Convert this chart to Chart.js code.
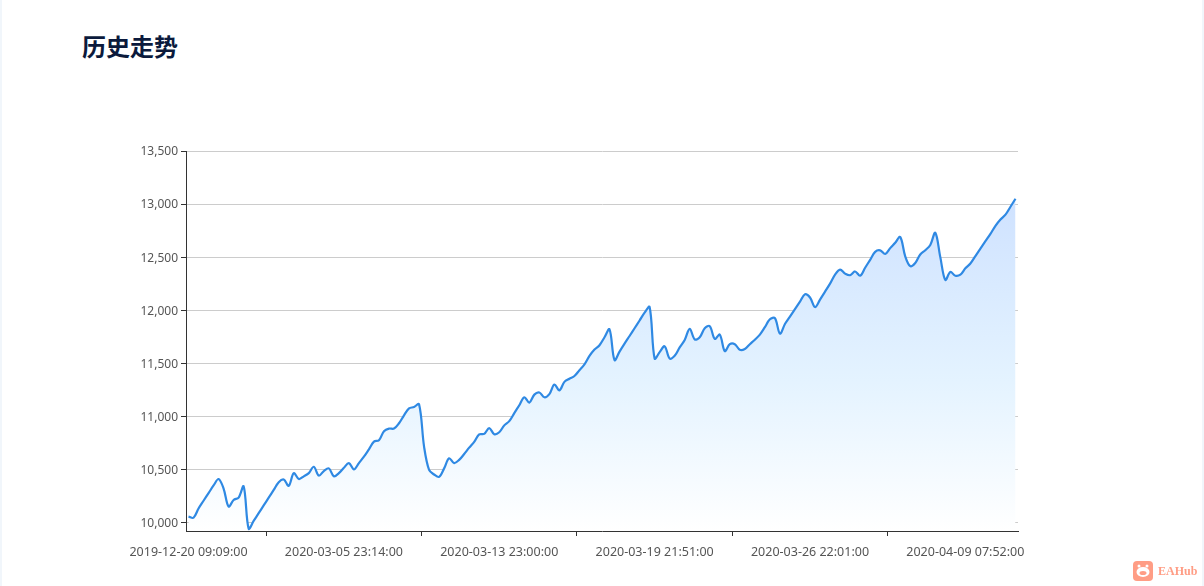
<!doctype html>
<html lang="zh-CN">
  <head>
    <meta charset="utf-8" />
    <title>历史走势</title>
    <style>
      html,
      body {
        margin: 0;
        height: 100%;
        overflow: hidden;
        background: #f1f6fb;
      }

      .panel {
        position: absolute;
        left: 2px;
        right: 2px;
        top: 0;
        bottom: 0;
        background: #ffffff;
      }

      .panel-title {
        position: absolute;
        left: 82px;
        top: 28px;
        margin: 0;
        font: bold 24px/36px "Noto Sans CJK SC", sans-serif;
        color: #0b1a3c;
      }

      #historyChart {
        position: absolute;
        left: 0;
        top: 0;
      }

      .brand {
        position: absolute;
        left: 1133px;
        top: 561px;
        display: flex;
        align-items: center;
        gap: 5px;
        font: bold 12px "Liberation Serif", serif;
        color: #ff9d85;
      }
    </style>
  </head>

  <body>
    <div class="panel"></div>
    <h2 class="panel-title">历史走势</h2>
    <canvas id="historyChart" width="1204" height="586"></canvas>
    <div class="brand">
      <svg width="20" height="20" viewBox="0 0 20 20">
        <rect width="20" height="20" rx="4" fill="#ff9d85" />
        <circle cx="6" cy="5" r="1.5" fill="#fff" />
        <circle cx="14" cy="5" r="1.5" fill="#fff" />
        <ellipse cx="10" cy="11" rx="6.5" ry="5" fill="#fff" />
        <ellipse cx="10" cy="12" rx="3.5" ry="2" fill="#ff9d85" />
      </svg>
      <span>EAHub</span>
    </div>

    <script src="https://cdnjs.cloudflare.com/ajax/libs/Chart.js/4.4.1/chart.umd.min.js"></script>
    <script type="text/javascript">
      const tickLabels = [
        "2019-12-20 09:09:00",
        "2020-03-05 23:14:00",
        "2020-03-13 23:00:00",
        "2020-03-19 21:51:00",
        "2020-03-26 22:01:00",
        "2020-04-09 07:52:00",
      ];
      const yTicks = [10000, 10500, 11000, 11500, 12000, 12500, 13000, 13500];
      // Balance, one value per category
      const balance = [
        10055, 10045, 10132, 10205, 10277, 10349, 10410, 10320, 10150, 10212,
        10235, 10340, 9942, 10015, 10088, 10161, 10234, 10307, 10380, 10405,
        10345, 10465, 10410, 10435, 10465, 10525, 10442, 10485, 10510, 10435,
        10465, 10515, 10560, 10500, 10560, 10620, 10690, 10762, 10775, 10860,
        10885, 10885, 10935, 11010, 11075, 11088, 11115, 10715, 10495, 10452,
        10430, 10510, 10605, 10560, 10590, 10645, 10705, 10760, 10830, 10835,
        10890, 10832, 10850, 10915, 10955, 11030, 11105, 11180, 11130, 11205,
        11225, 11180, 11210, 11300, 11245, 11325, 11355, 11380, 11435, 11490,
        11570, 11630, 11670, 11745, 11820, 11530, 11610, 11685, 11757, 11830,
        11903, 11977, 12030, 11545, 11605, 11660, 11545, 11570, 11650, 11720,
        11825, 11725, 11745, 11830, 11850, 11730, 11770, 11615, 11680, 11680,
        11627, 11635, 11680, 11722, 11770, 11840, 11915, 11925, 11780, 11870,
        11940, 12010, 12080, 12150, 12120, 12030, 12100, 12175, 12250, 12335,
        12382, 12345, 12330, 12365, 12325, 12400, 12475, 12550, 12564, 12530,
        12585, 12635, 12690, 12508, 12415, 12445, 12525, 12565, 12615, 12730,
        12500, 12285, 12360, 12325, 12335, 12395, 12440, 12510, 12580, 12650,
        12720, 12795, 12855, 12900, 12975, 13050,
      ];

      const labelStep = 31;
      const categories = balance.map((_, i) =>
        i % labelStep === 0 ? tickLabels[i / labelStep] : "",
      );

      // Area fades from the top of the line down to the axis
      function areaGradient(context) {
        const { chart } = context;
        if (!chart.chartArea) return "rgba(204, 224, 255, 0.9)";
        const top = chart.scales.y.getPixelForValue(Math.max(...balance));
        const gradient = chart.ctx.createLinearGradient(
          0,
          top,
          0,
          chart.chartArea.bottom,
        );
        gradient.addColorStop(0, "#cfe2ff");
        gradient.addColorStop(0.55, "#e4f3ff");
        gradient.addColorStop(1, "#ffffff");
        return gradient;
      }

      new Chart(document.getElementById("historyChart"), {
        type: "line",
        data: {
          labels: categories,
          datasets: [
            {
              label: "历史走势",
              data: balance,
              borderColor: "#2f89e3",
              borderWidth: 2.2,
              backgroundColor: areaGradient,
              fill: "start",
              pointRadius: 0,
              tension: 0.35,
            },
          ],
        },
        options: {
          responsive: false,
          animation: false,
          layout: {
            padding: { left: 100, right: 186, top: 151, bottom: 0 },
          },
          plugins: {
            legend: { display: false },
            title: { display: false },
            tooltip: { enabled: false },
          },
          scales: {
            x: {
              offset: true,
              afterFit: (scale) => {
                scale.height = 55;
              },
              border: { color: "#333333" },
              grid: {
                offset: true,
                drawOnChartArea: false,
                tickLength: 5,
                tickColor: (ctx) =>
                  ctx.index % labelStep === 16 ? "#333333" : "transparent",
              },
              ticks: {
                autoSkip: false,
                maxRotation: 0,
                padding: 9,
                color: "#555555",
                font: { family: "'Noto Sans'", size: 12.5 },
              },
            },
            y: {
              min: 9920,
              max: 13500,
              afterFit: (scale) => {
                scale.width = 86;
              },
              afterBuildTicks: (scale) => {
                scale.ticks = yTicks.map((value) => ({ value }));
              },
              border: { color: "#333333" },
              grid: {
                color: "#cccccc",
                tickLength: 5,
                tickColor: "#333333",
              },
              ticks: {
                padding: 3,
                labelOffset: 1,
                color: "#555555",
                font: { family: "'Noto Sans'", size: 12 },
                callback: (value) => value.toLocaleString("en-US"),
              },
            },
          },
        },
      });
    </script>
  </body>
</html>
